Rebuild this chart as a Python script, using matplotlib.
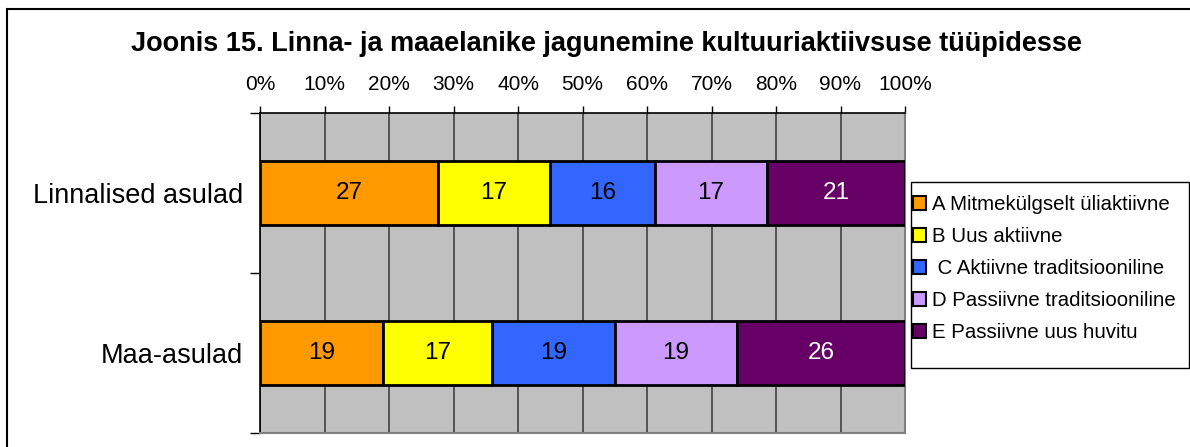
import matplotlib.pyplot as plt
from matplotlib.patches import Rectangle
import numpy as np

plt.rcParams['font.family'] = ['Liberation Sans', 'DejaVu Sans']

categories = ["Maa-asulad", "Linnalised asulad"]
series = ["A Mitmekülgselt üliaktiivne", "B Uus aktiivne", " C Aktiivne traditsiooniline",
          "D Passiivne traditsiooniline", "E Passiivne uus huvitu"]
values = {
    "A": [19, 27],
    "B": [17, 17],
    "C": [19, 16],
    "D": [19, 17],
    "E": [26, 21],
}
colors = ["#FF9900", "#FFFF00", "#3366FF", "#CC99FF", "#660066"]
text_colors = ["black", "black", "black", "black", "white"]
xticks = [0, 10, 20, 30, 40, 50, 60, 70, 80, 90, 100]

fig = plt.figure(figsize=(11.9, 4.47), dpi=100)
ax = fig.add_axes([260 / 1190, 14 / 447, 645 / 1190, 320 / 447])
ax.set_facecolor("#C0C0C0")

data = np.array(list(values.values()), dtype=float)
totals = data.sum(axis=0)
y = np.arange(len(categories))
left = np.zeros(len(categories))
for i, key in enumerate(values):
    w = data[i] / totals * 100
    ax.barh(y, w, left=left, height=0.4, color=colors[i], edgecolor="black",
            linewidth=2, label=series[i], zorder=3)
    for j in range(len(categories)):
        ax.text(left[j] + w[j] / 2, y[j], f"{int(data[i][j])}", ha="center", va="center",
                fontsize=17.5, color=text_colors[i], zorder=4)
    left += w

ax.set_xlim(0, 100)
ax.set_ylim(-0.5, 1.5)
ax.xaxis.tick_top()
ax.set_xticks(xticks)
ax.set_xticklabels([f"{t}%" for t in xticks], fontsize=15)
ax.tick_params(axis="x", direction="out", length=5, width=1, pad=9, color="black")
ax.set_yticks([-0.5, 0.5, 1.5])
ax.set_yticklabels([])
ax.set_yticks(y, minor=True)
ax.set_yticklabels(categories, minor=True, fontsize=19.5)
ax.tick_params(axis="y", which="major", direction="out", length=7, width=1, color="black")
ax.tick_params(axis="y", which="minor", length=0, pad=12)
ax.grid(axis="x", color="#404040", linewidth=1.2, zorder=1)
ax.set_axisbelow(True)
for s in ["left", "top"]:
    ax.spines[s].set_color("black")
    ax.spines[s].set_linewidth(1.2)
for s in ["right", "bottom"]:
    ax.spines[s].set_color("#808080")
    ax.spines[s].set_linewidth(1.5)

# legend box drawn separately so the padding can match the Excel look
fig.patches.append(Rectangle((911 / 1190, 1 - 368 / 447), 278 / 1190, 186 / 447,
                             transform=fig.transFigure, fill=False, edgecolor="black", linewidth=1))
handles, labels = ax.get_legend_handles_labels()
leg = fig.legend(handles, labels, loc="upper left", bbox_to_anchor=(913 / 1190, 1 - 195 / 447),
                 fontsize=14.7, frameon=False,
                 handlelength=0.65, handleheight=0.65, handletextpad=0.3,
                 labelspacing=0.64, borderpad=0, borderaxespad=0)
for h in leg.legend_handles:
    h.set_linewidth(1.5)

fig.text(606 / 1190, 1 - 44 / 447, "Joonis 15. Linna- ja maaelanike jagunemine kultuuriaktiivsuse tüüpidesse",
         ha="center", va="center", fontsize=19.5, fontweight="bold")

fig.patches.append(Rectangle((7 / 1190, -0.1), 1.2, 1 - 9 / 447 + 0.1, transform=fig.transFigure,
                             fill=False, edgecolor="black", linewidth=1.5))

fig.savefig("out.png", dpi=100)
